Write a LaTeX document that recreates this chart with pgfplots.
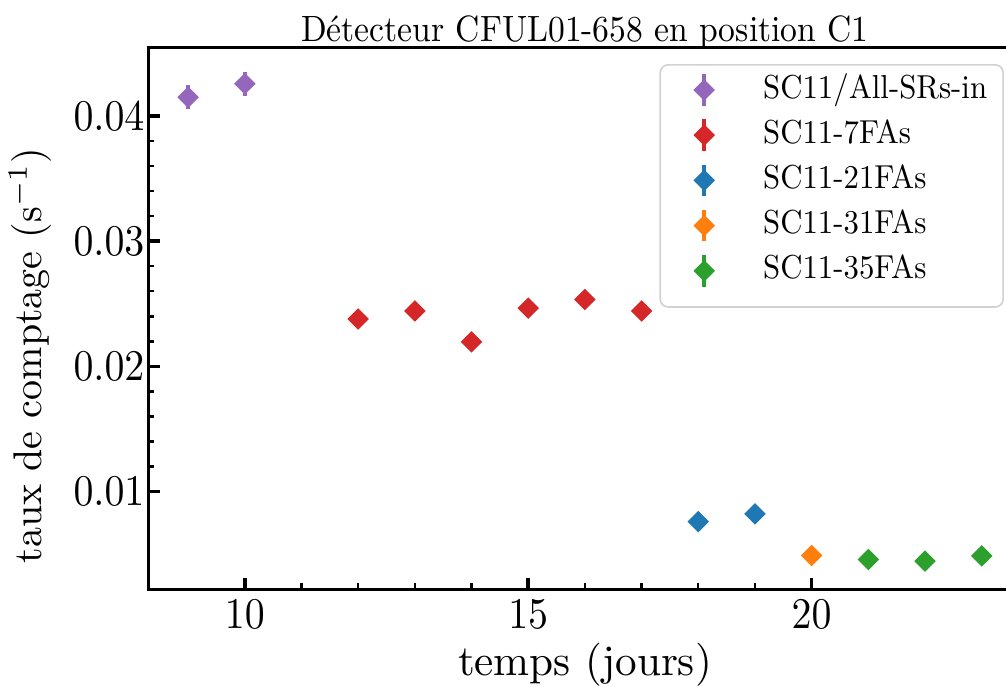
\documentclass[border=0pt]{standalone}
\usepackage{pgfplots}
\pgfplotsset{compat=1.18}
\usepackage{pgfplotstable}
\definecolor{cpurple}{HTML}{9467BD}
\definecolor{cred}{HTML}{D62728}
\definecolor{cblue}{HTML}{1F77B4}
\definecolor{corange}{HTML}{FF7F0E}
\definecolor{cgreen}{HTML}{2CA02C}
\pgfplotstableread{
x y e
9 0.04150 0.00095
10 0.04258 0.00095
}\tpurple
\pgfplotstableread{
x y e
12 0.02379 0.0005
13 0.02443 0.0005
14 0.02196 0.0005
15 0.02465 0.0005
16 0.02534 0.0005
17 0.02443 0.0005
}\tred
\pgfplotstableread{
x y e
18 0.00760 0.0003
19 0.00822 0.0003
}\tblue
\pgfplotstableread{
x y e
20 0.00489 0.0002
}\torange
\pgfplotstableread{
x y e
21 0.00457 0.0002
22 0.00444 0.0002
23 0.00486 0.0002
}\tgreen
\newcommand{\lt}[1]{\scalebox{0.77}[0.83]{#1}}
\pgfplotsset{
  myerr/.style={
    only marks, color=#1, mark=square*, mark size=1.7pt,
    mark options={rotate=45, fill=#1, draw=#1, solid, line width=0.4pt},
    error bars/.cd, y dir=both, y explicit, error mark=none,
    error bar style={line width=1pt, #1},
  },
}
\begin{document}
\begin{tikzpicture}
\path[use as bounding box, clip] (-37.1pt,-24.4pt) rectangle (214.4pt,147.3pt);
\begin{axis}[
  scale only axis, width=218.25pt, height=135.5pt,
  xmin=8.3, xmax=23.7, ymin=0.0022, ymax=0.0455,
  xtick={10,15,20}, ytick={0.01,0.02,0.03,0.04},
  minor x tick num=4, minor y tick num=4,
  tick pos=left, tick align=inside,
  major tick length=2.9pt, minor tick length=1.5pt,
  major tick style={line width=0.9pt, black},
  minor tick style={line width=0.6pt, black},
  axis line style={line width=0.8pt},
  scaled y ticks=false,
  ticklabel style={font=\fontsize{10.5}{12}\selectfont},
  xticklabel={\scalebox{0.91}[1]{\axisdefaultticklabel}},
  yticklabel={\scalebox{0.91}[1]{\axisdefaultticklabel}},
  xticklabel style={inner sep=2.5pt},
  yticklabel style={inner xsep=0.8pt, /pgf/number format/.cd, fixed, fixed zerofill, precision=2},
  every axis title shift=0pt,
  title={\scalebox{0.84}[0.915]{Détecteur CFUL01-658 en position C1}},
  title style={font=\fontsize{10}{12}\selectfont, at={(0.5,1)}, anchor=base, yshift=1.5pt},
  xlabel={temps (jours)}, ylabel={taux de comptage (s$^{-1}$)},
  xlabel style={font=\fontsize{10.8}{12}\selectfont, yshift=2.2pt},
  ylabel style={font=\fontsize{10}{12}\selectfont, at={(axis description cs:-0.1355,0.4305)}, anchor=center},
  legend cell align=left,
  legend style={at={(0.980,0.969)}, anchor=north east, draw=black!18,
    rounded corners=2pt, fill=white,
    font=\fontsize{10}{12}\selectfont, inner xsep=4pt, inner ysep=0.65pt,
    nodes={inner xsep=0pt, inner ysep=1.65pt, text height=6pt, text depth=2pt}},
  legend image code/.code={
    \path[draw=none, fill=none] (0pt,0pt) -- (21.75pt,0pt);
    \draw[line width=1pt, solid] (7pt,-3.95pt) -- (7pt,3.95pt);
    \draw plot coordinates {(7pt,0pt)};
  },
]
\addplot[myerr=cpurple] table[x=x, y=y, y error=e] {\tpurple};
\addlegendentry{\lt{SC11/All-SRs-in}}
\addplot[myerr=cred] table[x=x, y=y, y error=e] {\tred};
\addlegendentry{\lt{SC11-7FAs}}
\addplot[myerr=cblue] table[x=x, y=y, y error=e] {\tblue};
\addlegendentry{\lt{SC11-21FAs}}
\addplot[myerr=corange] table[x=x, y=y, y error=e] {\torange};
\addlegendentry{\lt{SC11-31FAs}}
\addplot[myerr=cgreen] table[x=x, y=y, y error=e] {\tgreen};
\addlegendentry{\lt{SC11-35FAs}}
\addlegendimage{empty legend}
\addlegendentry[text height=2.75pt, text depth=0pt, inner ysep=0pt]{}
\end{axis}
\end{tikzpicture}
\end{document}
